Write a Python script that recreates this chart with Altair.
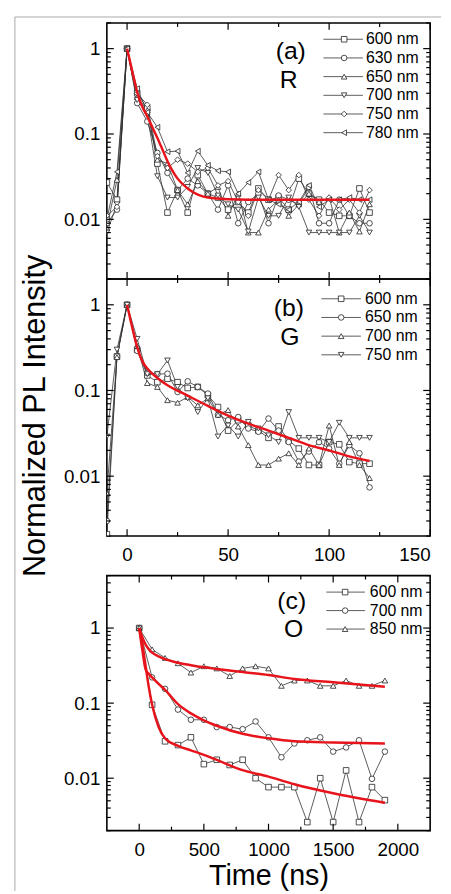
import altair as alt
import pandas as pd

FONT = "Liberation Sans"
RED = "#e8141c"
LINE = "#333333"
FRAME = "#a8a8a8"
W = 327
H_A, H_B, H_C = 259, 260, 258

# ---------------- data ----------------
T_AB = [-10, -5, 0, 5, 10, 15, 20, 25, 30, 35, 40, 45, 50, 55, 60, 65, 70, 75,
        80, 85, 90, 95, 100, 105, 110, 115, 120]

LABELS_A = ["600 nm", "630 nm", "650 nm", "700 nm", "750 nm", "780 nm"]
R_600 = [0.027, 0.017, 1, 0.30, 0.20, 0.045, 0.012, 0.022, 0.012, 0.033, 0.020, 0.018, 0.013, 0.016,
         0.012, 0.023, 0.017, 0.018, 0.013, 0.030, 0.020, 0.017, 0.012, 0.011, 0.011, 0.023, 0.012]
R_630 = [0.009, 0.013, 1, 0.23, 0.14, 0.060, 0.035, 0.022, 0.030, 0.025, 0.020, 0.013, 0.025, 0.009,
         0.016, 0.020, 0.009, 0.019, 0.017, 0.015, 0.024, 0.009, 0.009, 0.017, 0.011, 0.009, 0.009]
R_650 = [0.008, 0.029, 1, 0.27, 0.19, 0.050, 0.045, 0.022, 0.015, 0.028, 0.020, 0.024, 0.011, 0.020,
         0.007, 0.007, 0.013, 0.017, 0.011, 0.015, 0.020, 0.016, 0.018, 0.007, 0.012, 0.0072, 0.015]
R_700 = [0.007, 0.015, 1, 0.25, 0.17, 0.032, 0.018, 0.018, 0.024, 0.040, 0.035, 0.019, 0.015, 0.013,
         0.0072, 0.018, 0.011, 0.011, 0.018, 0.014, 0.007, 0.007, 0.007, 0.007, 0.007, 0.011, 0.007]
R_750 = [0.011, 0.014, 1, 0.30, 0.22, 0.055, 0.040, 0.050, 0.045, 0.036, 0.040, 0.025, 0.028, 0.016,
         0.011, 0.022, 0.017, 0.033, 0.022, 0.033, 0.017, 0.011, 0.018, 0.013, 0.017, 0.012, 0.022]
R_780 = [0.010, 0.036, 1, 0.34, 0.18, 0.12, 0.062, 0.063, 0.035, 0.063, 0.043, 0.037, 0.036, 0.020,
         0.027, 0.036, 0.017, 0.015, 0.013, 0.016, 0.025, 0.014, 0.017, 0.017, 0.018, 0.017, 0.017]
FIT_A_T = [0, 2.5, 5, 7.5, 10, 12.5, 15, 17.5, 20, 22.5, 25, 30, 35, 40, 50, 60, 80, 100, 120]
FIT_A_V = [1, 0.55, 0.31, 0.21, 0.16, 0.12, 0.09, 0.066, 0.048, 0.037, 0.030, 0.023, 0.0195,
           0.018, 0.0172, 0.017, 0.017, 0.017, 0.017]

LABELS_B = ["600 nm", "650 nm", "700 nm", "750 nm"]
G_600 = [0.0021, 0.25, 1, 0.30, 0.15, 0.125, 0.137, 0.125, 0.107, 0.11, 0.088, 0.064, 0.034, 0.045,
         0.039, 0.034, 0.028, 0.038, 0.026, 0.021, 0.0135, 0.0135, 0.025, 0.0235, 0.0146, 0.014, 0.014]
G_650 = [0.003, 0.25, 1, 0.29, 0.16, 0.155, 0.157, 0.096, 0.128, 0.11, 0.092, 0.052, 0.045, 0.049,
         0.036, 0.033, 0.047, 0.034, 0.025, 0.0148, 0.0194, 0.025, 0.021, 0.014, 0.023, 0.0185, 0.0074]
G_700 = [0.0063, 0.245, 1, 0.33, 0.122, 0.11, 0.077, 0.072, 0.084, 0.067, 0.081, 0.052, 0.059, 0.038,
         0.023, 0.0135, 0.0135, 0.016, 0.0185, 0.0135, 0.021, 0.0135, 0.039, 0.0135, 0.025, 0.0135, 0.0095]
G_750 = [0.029, 0.30, 1, 0.40, 0.155, 0.155, 0.224, 0.11, 0.081, 0.056, 0.081, 0.029, 0.039, 0.029,
         0.043, 0.036, 0.030, 0.025, 0.056, 0.028, 0.028, 0.028, 0.025, 0.042, 0.028, 0.028, 0.028]
FIT_B_T = [0, 2.5, 5, 7.5, 10, 15, 20, 30, 40, 50, 60, 70, 80, 90, 100, 110, 120]
FIT_B_V = [1, 0.55, 0.32, 0.22, 0.18, 0.14, 0.115, 0.087, 0.066, 0.051, 0.041, 0.034, 0.028,
           0.023, 0.020, 0.017, 0.015]

T_C = [0, 100, 200, 300, 400, 500, 600, 700, 800, 900, 1000, 1100, 1200, 1300, 1400, 1500,
       1600, 1700, 1800, 1900]
LABELS_C = ["600 nm", "700 nm", "850 nm"]
O_600 = [1, 0.095, 0.031, 0.0276, 0.035, 0.0154, 0.0176, 0.015, 0.0176, 0.010, 0.0076, 0.0076,
         0.0076, 0.0026, 0.010, 0.0026, 0.0127, 0.0026, 0.0076, 0.0051]
O_700 = [1, 0.22, 0.155, 0.082, 0.060, 0.060, 0.048, 0.048, 0.045, 0.057, 0.035, 0.019, 0.029,
         0.032, 0.035, 0.0226, 0.0257, 0.032, 0.0098, 0.0226]
O_850 = [1, 0.52, 0.40, 0.34, 0.255, 0.31, 0.29, 0.23, 0.29, 0.31, 0.29, 0.17, 0.20, 0.20, 0.17,
         0.17, 0.20, 0.17, 0.17, 0.20]
FIT_C_T = [0, 25, 50, 75, 100, 150, 200, 300, 400, 500, 600, 800, 1000, 1200, 1500, 1900]
FIT_C_600 = [1, 0.6, 0.31, 0.16, 0.095, 0.048, 0.034, 0.027, 0.0235, 0.0205, 0.0175, 0.0128,
             0.0105, 0.0083, 0.0063, 0.0047]
FIT_C_700 = [1, 0.5, 0.28, 0.245, 0.22, 0.18, 0.15, 0.097, 0.073, 0.059, 0.050, 0.039, 0.034,
             0.031, 0.0298, 0.029]
FIT_C_850 = [1, 0.75, 0.6, 0.52, 0.47, 0.42, 0.385, 0.345, 0.32, 0.30, 0.285, 0.26, 0.237, 0.21,
             0.19, 0.165]

SHAPES = ["square", "circle", "triangle-up", "triangle-down", "diamond", "triangle-left"]


def long_df(t, labels, series):
    rows = []
    for lab, vals in zip(labels, series):
        for tt, vv in zip(t, vals):
            rows.append({"t": tt, "v": vv, "series": lab})
    return pd.DataFrame(rows)


def fit_df(t, series):
    rows = []
    for i, vals in enumerate(series):
        for tt, vv in zip(t, vals):
            rows.append({"t": tt, "v": vv, "curve": str(i)})
    return pd.DataFrame(rows)


def panel(data, fits, labels, xdom, ydom, x_axis, y_axis, height,
          xmaj, xmin, ymaj, ymin, leg, tags, frame=False):
    xs = alt.Scale(domain=xdom, nice=False, zero=False)
    ys = alt.Scale(type="log", domain=ydom, nice=False)
    base = alt.Chart(data)
    lines = base.mark_line(color=LINE, strokeWidth=0.8, clip=True).encode(
        x=alt.X("t:Q", scale=xs, axis=x_axis),
        y=alt.Y("v:Q", scale=ys, axis=y_axis),
        detail="series:N",
    )
    layers = [lines]
    for lab, shp in zip(labels, SHAPES):
        layers.append(alt.Chart(data).transform_filter(
            alt.datum.series == lab).mark_point(
            shape=shp, filled=True, fill="white", stroke="#222222", strokeWidth=0.8,
            size=32, opacity=1, clip=True).encode(
            x=alt.X("t:Q", scale=xs),
            y=alt.Y("v:Q", scale=ys)))
    layers.append(alt.Chart(fits).mark_line(color=RED, strokeWidth=2.5, interpolate="monotone",
                                            clip=True).encode(
        x=alt.X("t:Q", scale=xs),
        y=alt.Y("v:Q", scale=ys),
        detail="curve:N",
    ))

    def yt(vals, ln):
        ch = alt.Chart(pd.DataFrame({"v": vals}))
        left = ch.mark_rule(color="black", strokeWidth=1.2).encode(
            y=alt.Y("v:Q", scale=ys), x=alt.value(0), x2=alt.value(ln))
        right = ch.mark_rule(color="black", strokeWidth=1.2).encode(
            y=alt.Y("v:Q", scale=ys), x=alt.value(W), x2=alt.value(W - ln))
        return [left, right]

    def xt(vals, ln):
        ch = alt.Chart(pd.DataFrame({"t": vals}))
        bot = ch.mark_rule(color="black", strokeWidth=1.2).encode(
            x=alt.X("t:Q", scale=xs), y=alt.value(height), y2=alt.value(height - ln))
        top = ch.mark_rule(color="black", strokeWidth=1.2).encode(
            x=alt.X("t:Q", scale=xs), y=alt.value(0), y2=alt.value(ln))
        return [bot, top]

    layers += yt(ymaj, 7) + yt(ymin, 4) + xt(xmaj, 7) + xt(xmin, 4)

    # legend (line + symbol + label), one small chart per entry
    x0, x1, xsym, xtxt, y0, dy = leg
    for i, (lab, shp) in enumerate(zip(labels, SHAPES)):
        ly = y0 + dy * i
        lc = alt.Chart(pd.DataFrame({"series": [lab]}))
        layers.append(lc.mark_rule(color=LINE, strokeWidth=0.8).encode(
            x=alt.value(x0), x2=alt.value(x1), y=alt.value(ly)))
        layers.append(lc.mark_point(shape=shp, filled=True, fill="white", stroke="#222222",
                                    strokeWidth=0.8, size=32, opacity=1).encode(
            x=alt.value(xsym), y=alt.value(ly)))
        layers.append(lc.mark_text(align="left", baseline="middle", font=FONT, fontSize=16,
                                   color="black").encode(
            x=alt.value(xtxt), y=alt.value(ly), text="series:N"))

    for tag, px, py in tags:
        layers.append(alt.Chart(pd.DataFrame({"tag": [tag]})).mark_text(
            align="center", baseline="middle", font=FONT, fontSize=25, color="black").encode(
            x=alt.value(px), y=alt.value(py), text="tag:N"))

    if frame:
        # thin grey border of the original figure image (outside the plot area)
        fc = alt.Chart(pd.DataFrame({"f": [0]}))
        layers.append(fc.mark_rule(color=FRAME, strokeWidth=1).encode(
            x=alt.value(-93), y=alt.value(-6), y2=alt.value(878)))
        layers.append(fc.mark_rule(color=FRAME, strokeWidth=1).encode(
            x=alt.value(-93), x2=alt.value(338), y=alt.value(-6)))

    return alt.layer(*layers).properties(width=W, height=height)


def yaxis(title=None, **kw):
    return alt.Axis(values=[0.01, 0.1, 1], format="~g", title=title, **kw)


YMIN_AB = [round(a * b, 6) for b in (0.001, 0.01, 0.1) for a in range(2, 10)] + [2]
YMIN_C = YMIN_AB + [3, 4, 5]

pa = panel(long_df(T_AB, LABELS_A, [R_600, R_630, R_650, R_700, R_750, R_780]),
           fit_df(FIT_A_T, [FIT_A_V]), LABELS_A, [-10, 150], [0.002, 2],
           None, yaxis(), H_A,
           [0, 50, 100, 150], [25, 75, 125], [0.01, 0.1, 1], YMIN_AB,
           (219, 259, 240, 262, 16.5, 18.9),
           [("(a)", 186, 28), ("R", 184, 58)], frame=True)

pb = panel(long_df(T_AB, LABELS_B, [G_600, G_650, G_700, G_750]),
           fit_df(FIT_B_T, [FIT_B_V]), LABELS_B, [-10, 150], [0.002, 2],
           alt.Axis(values=[0, 50, 100, 150], title=None, labelPadding=10, format="d"),
           yaxis("Normalized PL Intensity", titleX=-63, titleY=138, titleAngle=270,
                 titleAlign="center", titleBaseline="alphabetic", titleFontSize=31),
           H_B,
           [0, 50, 100, 150], [25, 75, 125], [0.01, 0.1, 1], YMIN_AB,
           (217, 257, 237, 261, 20, 18.9),
           [("(b)", 184, 29), ("G", 185, 59)])

pc = panel(long_df(T_C, LABELS_C, [O_600, O_700, O_850]),
           fit_df(FIT_C_T, [FIT_C_600, FIT_C_700, FIT_C_850]), LABELS_C,
           [-250, 2250], [0.002, 5],
           alt.Axis(values=[0, 500, 1000, 1500, 2000], title="Time (ns)", labelPadding=10,
                    titleFontSize=29, titlePadding=2, format="d"),
           yaxis(), H_C,
           [0, 500, 1000, 1500, 2000], [250, 750, 1250, 1750], [0.01, 0.1, 1], YMIN_C,
           (222, 261, 241, 266, 16.7, 18.7),
           [("(c)", 187, 26), ("O", 189, 54)])

spacer = alt.Chart(pd.DataFrame({"s": [0]})).mark_point(opacity=0).encode(
    x=alt.value(0), y=alt.value(0)
).properties(width=W, height=40, view=alt.ViewBackground(strokeOpacity=0))

chart = alt.vconcat(pa, pb, spacer, pc, spacing=0, bounds="flush").properties(
    padding={"left": 5, "top": 2, "right": 0, "bottom": 0}
).configure_view(stroke="black", strokeWidth=1.6).configure_axis(
    labelFont=FONT, labelFontSize=19, labelColor="black", titleFont=FONT,
    titleColor="black", titleFontWeight="normal", grid=False, domain=False,
    ticks=False, tickSize=0, labelPadding=7
)

chart.save("out.html", embed_options={"renderer": "svg", "actions": False})
